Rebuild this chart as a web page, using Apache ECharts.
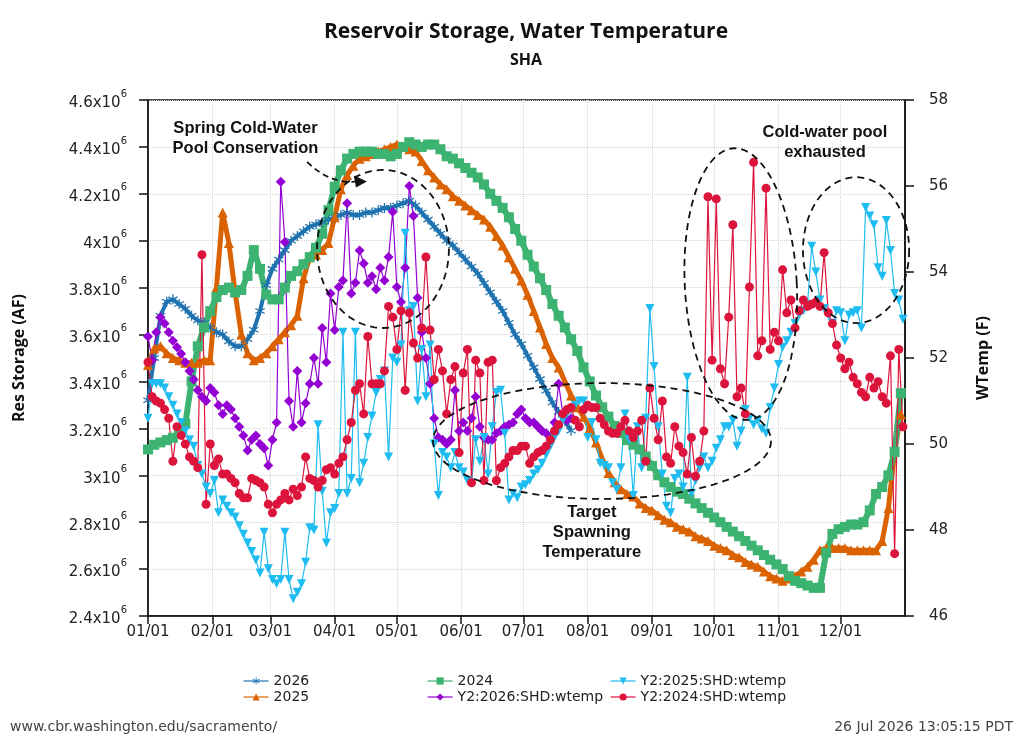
<!DOCTYPE html>
<html>
<head>
<meta charset="utf-8">
<title>SHA Reservoir Storage, Water Temperature</title>
<script src="https://cdn.jsdelivr.net/npm/echarts@6.0.0/dist/echarts.min.js"></script>
<style>
  html, body { margin: 0; padding: 0; background: #fff; }
  #chart { width: 1024px; height: 745px; }
</style>
</head>
<body>
<div id="chart"></div>
<script>
// x axis is day of year (0 = 01/01)
const monthStartDays = [0, 31, 59, 90, 120, 151, 181, 212, 243, 273, 304, 334];
const monthLabels = ['01/01', '02/01', '03/01', '04/01', '05/01', '06/01',
  '07/01', '08/01', '09/01', '10/01', '11/01', '12/01'];

// storage, million acre-feet, one value every 3 days from 01/01
const STORAGE_STEP = 3;
const storage2026 = [3.32, 3.50, 3.68, 3.74, 3.75, 3.73, 3.71, 3.68, 3.66, 3.65,
  3.63, 3.61, 3.60, 3.57, 3.55, 3.55, 3.58, 3.62, 3.70, 3.81,
  3.88, 3.92, 3.96, 4.00, 4.02, 4.04, 4.06, 4.07, 4.08, 4.09,
  4.10, 4.11, 4.12, 4.11, 4.11, 4.12, 4.12, 4.13, 4.14, 4.14,
  4.15, 4.16, 4.17, 4.15, 4.12, 4.09, 4.06, 4.03, 4.00, 3.98,
  3.95, 3.92, 3.89, 3.86, 3.82, 3.78, 3.74, 3.70, 3.65, 3.60,
  3.56, 3.51, 3.46, 3.41, 3.36, 3.31, 3.27, 3.23, 3.19];
const storage2025 = [3.47, 3.54, 3.55, 3.52, 3.50, 3.49, 3.48, 3.48, 3.48, 3.49,
  3.49, 3.80, 4.12, 3.99, 3.78, 3.60, 3.52, 3.49, 3.50, 3.52,
  3.55, 3.58, 3.61, 3.64, 3.68, 3.84, 3.93, 3.94, 3.96, 3.99,
  4.10, 4.22, 4.28, 4.32, 4.35, 4.36, 4.37, 4.38, 4.39, 4.40,
  4.41, 4.40, 4.39, 4.38, 4.34, 4.30, 4.27, 4.24, 4.22, 4.19,
  4.17, 4.15, 4.13, 4.11, 4.09, 4.06, 4.02, 3.98, 3.93, 3.88,
  3.83, 3.77, 3.70, 3.63, 3.56, 3.50, 3.46, 3.40, 3.34, 3.29,
  3.25, 3.20, 3.14, 3.07, 3.01, 2.97, 2.94, 2.92, 2.91, 2.88,
  2.86, 2.85, 2.83, 2.81, 2.80, 2.78, 2.77, 2.76, 2.74, 2.73,
  2.72, 2.70, 2.69, 2.68, 2.66, 2.65, 2.63, 2.62, 2.61, 2.59,
  2.57, 2.56, 2.55, 2.56, 2.57, 2.59, 2.61, 2.64, 2.68, 2.69,
  2.69, 2.69, 2.69, 2.68, 2.68, 2.68, 2.68, 2.68, 2.72, 2.86,
  3.10, 3.26];
const storage2024 = [3.11, 3.13, 3.14, 3.15, 3.16, 3.18, 3.22, 3.40, 3.55, 3.63,
  3.70, 3.76, 3.79, 3.80, 3.78, 3.79, 3.85, 3.96, 3.88, 3.77,
  3.75, 3.75, 3.80, 3.85, 3.87, 3.90, 3.93, 3.97, 4.03, 4.13,
  4.23, 4.30, 4.35, 4.37, 4.38, 4.38, 4.38, 4.37, 4.37, 4.36,
  4.37, 4.40, 4.42, 4.41, 4.40, 4.41, 4.41, 4.39, 4.36, 4.35,
  4.33, 4.31, 4.29, 4.27, 4.24, 4.20, 4.17, 4.14, 4.10, 4.05,
  4.00, 3.94, 3.89, 3.84, 3.79, 3.73, 3.68, 3.63, 3.58, 3.53,
  3.46, 3.40, 3.34, 3.29, 3.25, 3.21, 3.18, 3.15, 3.13, 3.11,
  3.08, 3.04, 3.00, 2.97, 2.95, 2.93, 2.92, 2.90, 2.88, 2.86,
  2.84, 2.82, 2.80, 2.78, 2.76, 2.74, 2.72, 2.70, 2.68, 2.66,
  2.64, 2.62, 2.60, 2.57, 2.55, 2.54, 2.53, 2.52, 2.52, 2.67,
  2.75, 2.77, 2.78, 2.79, 2.79, 2.80, 2.85, 2.92, 2.95, 3.00,
  3.10, 3.35];

// SHD water temperature, deg F, one value every 2 days from 01/01
const WTEMP_STEP = 2;
const wtemp2026 = [52.5, 51.95, 52.6, 52.95, 52.8, 52.6, 52.4, 52.25, 52.1, 51.9,
  51.7, 51.5, 51.25, 51.1, 51.0, 51.3, 51.2, 50.9, 50.7, 50.9,
  50.8, 50.6, 50.4, 50.2, 49.85, 50.1, 50.2, 50.0, 49.9, 49.5,
  50.1, 50.5, 56.1, 54.7, 51.0, 50.4, 51.7, 50.5, 50.95, 51.4,
  52.0, 51.4, 52.7, 51.9, 53.5, 52.65, 53.65, 53.8, 55.6, 53.5,
  53.75, 54.5, 54.2, 53.75, 53.9, 53.6, 54.1, 53.8, 54.35, 55.4,
  53.65, 53.3, 54.1, 56.0, 55.3, 53.4, 52.6, 52.0, 51.4, 50.6,
  50.15, 50.1, 50.0, 50.1, 51.25, 50.3, 50.5, 50.3, 50.6, 51.1,
  50.4, 50.15, 50.1, 50.1, 50.25, 50.3, 50.4, 50.45, 50.5, 50.7,
  50.8, 50.6, 50.5, 50.5, 50.4, 50.3, 50.25, 50.15, 50.5, 51.4,
  50.7, 50.55, 50.6];
const wtemp2025 = [50.6, 51.4, 51.4, 51.4, 51.3, 51.1, 50.9, 50.7, 50.5, 50.3,
  50.1, 49.95, 49.5, 49.3, 49.0, 48.85, 49.15, 48.4, 48.7, 48.55,
  48.4, 48.3, 48.1, 47.9, 47.7, 47.5, 47.3, 47.0, 47.95, 47.1,
  46.85, 46.75, 46.85, 47.95, 46.85, 46.4, 46.55, 46.75, 47.25, 48.05,
  48.0, 50.45, 48.9, 47.7, 48.4, 48.5, 48.85, 52.6, 48.85, 49.2,
  52.6, 49.1, 49.55, 50.15, 50.65, 51.2, 51.5, 51.7, 49.7, 52.0,
  51.9, 52.3, 54.9, 53.1, 53.2, 51.0, 52.2, 51.1, 52.3, 50.0,
  48.8, 49.8, 49.7, 49.45, 49.8, 49.45, 49.35, 49.15, 49.1, 50.1,
  49.6, 50.15, 49.3, 50.4, 51.2, 51.25, 50.25, 48.7, 48.85, 48.75,
  49.0, 49.05, 49.15, 49.3, 49.4, 49.55, 49.75, 49.95, 50.15, 50.3,
  50.55, 50.7, 50.8, 50.9, 51.0, 51.0, 50.15, 50.5, 50.1, 49.55,
  49.5, 49.45, 49.1, 48.95, 49.45, 50.7, 50.1, 48.8, 50.4, 49.45,
  50.6, 53.15, 51.8, 50.4, 49.3, 48.55, 48.4, 49.2, 49.3, 49.0,
  51.55, 48.85, 49.15, 49.45, 49.7, 49.45, 49.6, 49.9, 50.1, 50.4,
  50.4, 50.55, 49.95, 50.3, 50.8, 50.6, 50.45, 50.55, 50.35, 50.25,
  50.85, 51.3, 51.85, 52.25, 52.4, 52.6, 52.8, 53.0, 53.1, 53.25,
  54.6, 54.0, 53.35, 53.15, 53.0, 52.8, 53.1, 53.05, 52.4, 53.0,
  53.05, 53.1, 52.7, 55.5, 55.3, 55.1, 54.1, 53.9, 55.2, 54.5,
  53.5, 53.35, 52.9];
const wtemp2024 = [51.9, 51.1, 51.0, 50.95, 50.8, 50.6, 49.6, 50.4, 50.2, 50.0,
  49.7, 49.6, 49.45, 54.4, 48.6, 50.0, 49.5, 49.65, 49.3, 49.3,
  49.2, 49.1, 48.85, 48.75, 48.75, 49.2, 49.15, 49.1, 49.0, 48.6,
  48.4, 48.6, 48.7, 48.85, 48.7, 48.95, 48.8, 49.0, 49.7, 49.2,
  49.15, 49.0, 49.15, 49.4, 49.45, 49.3, 49.55, 49.7, 50.1, 50.5,
  51.25, 51.4, 50.7, 52.5, 51.4, 51.4, 51.4, 51.7, 53.2, 52.95,
  52.2, 53.1, 51.25, 53.05, 52.35, 52.0, 52.7, 54.35, 52.65, 51.5,
  52.2, 51.7, 50.7, 51.5, 51.8, 49.8, 51.65, 52.2, 49.1, 51.95,
  51.65, 49.15, 51.9, 51.95, 49.15, 49.45, 49.55, 49.7, 49.85, 49.85,
  49.95, 49.95, 49.55, 49.7, 49.8, 49.85, 49.95, 50.1, 50.3, 50.45,
  50.7, 50.8, 50.85, 50.55, 50.4, 50.8, 50.9, 50.85, 50.85, 50.6,
  50.45, 50.3, 50.25, 50.25, 50.4, 50.55, 50.3, 50.15, 50.3, 50.55,
  49.6, 51.3, 50.6, 50.1, 51.0, 49.7, 49.55, 50.4, 49.95, 49.8,
  49.3, 50.15, 49.25, 49.6, 50.3, 55.75, 51.95, 55.7, 51.75, 51.4,
  52.95, 55.1, 51.1, 51.3, 50.7, 53.65, 56.55, 52.05, 52.4, 55.95,
  52.2, 52.6, 52.4, 54.05, 53.05, 53.35, 52.7, 53.1, 53.35, 53.2,
  53.25, 53.3, 53.2, 54.45, 53.05, 52.8, 52.3, 52.0, 51.75, 51.9,
  51.55, 51.4, 51.2, 51.1, 51.55, 51.3, 51.45, 51.1, 50.95, 52.05,
  47.45, 52.2, 50.4];

// annotation anchors in chart coordinates [day, AF]
const springNote = { day: 47, value: 4.438e6 };
const springArrow = { from: [76.7, 4.336e6], to: [104.6, 4.252e6] };
const springEllipse = { day: 113.3, value: 3.965e6, rx: 31.8, ry: 0.337e6, rot: 0 };
const exhaustedNote = { day: 326.4, value: 4.417e6 };
const octEllipse = { day: 285.8, value: 3.815e6, rx: 27, ry: 0.58e6, rot: -3 };
const decEllipse = { day: 341.4, value: 3.96e6, rx: 25.6, ry: 0.311e6, rot: 0 };
const targetNote = { day: 214, value: 2.758e6 };
const targetEllipse = { day: 218.9, value: 3.146e6, rx: 81.5, ry: 0.247e6, rot: 0 };

const AXIS_FONT = '"DejaVu Sans", sans-serif';
const BOLD_FONT = '"Open Sans", "DejaVu Sans", sans-serif';
const NOTE_FONT = '"Liberation Sans", Arial, sans-serif';

// six armed asterisk, all arms wound the same way
const asterisk = 'path://M-1.2 10L1.2 10L1.2 -10L-1.2 -10Z' +
  'M-9.26 -3.96L-8.06 -6.04L9.26 3.96L8.06 6.04Z' +
  'M8.06 -6.04L9.26 -3.96L-8.06 6.04L-9.26 3.96Z';

function toPoints(values, step, scale) {
  return values.map((v, i) => [i * step, v * scale]);
}

function makeSeries(name, values, step, scale, axis, color, symbol, size, lineWidth, rotate) {
  return {
    name: name,
    type: 'line',
    yAxisIndex: axis,
    data: toPoints(values, step, scale),
    symbol: symbol,
    symbolSize: size,
    symbolRotate: rotate || 0,
    showSymbol: true,
    color: color,
    lineStyle: { color: color, width: lineWidth },
    itemStyle: { color: color },
    emphasis: { disabled: true },
    animation: false
  };
}

let chart = echarts.init(document.getElementById('chart'));

let option = {
  backgroundColor: '#fff',
  title: {
    text: 'Reservoir Storage, Water Temperature',
    subtext: 'SHA',
    left: 521,
    top: 17,
    textAlign: 'center',
    itemGap: 9,
    textStyle: { fontFamily: BOLD_FONT, fontWeight: 'bold', fontSize: 21, color: '#111' },
    subtextStyle: { fontFamily: BOLD_FONT, fontWeight: 'bold', fontSize: 16, color: '#111' }
  },
  legend: [
    { data: ['2026', '2025'], left: 238 },
    { data: ['2024', 'Y2:2026:SHD:wtemp'], left: 422 },
    { data: ['Y2:2025:SHD:wtemp', 'Y2:2024:SHD:wtemp'], left: 605 }
  ].map(l => Object.assign({
    orient: 'vertical',
    top: 669,
    itemGap: 2,
    itemWidth: 25,
    itemHeight: 9,
    selectedMode: false,
    lineStyle: { width: 1.2 },
    textStyle: { fontFamily: AXIS_FONT, fontSize: 14, color: '#222' }
  }, l)),
  grid: {
    left: 148, right: 119, top: 100, bottom: 129,
    show: true, borderColor: '#111', borderWidth: 1.5
  },
  xAxis: {
    type: 'value',
    min: 0,
    max: 365,
    axisLine: { lineStyle: { color: '#111', width: 1.5 } },
    axisTick: { customValues: monthStartDays, length: 8, lineStyle: { color: '#111', width: 1.5 } },
    axisLabel: {
      customValues: monthStartDays,
      formatter: v => monthLabels[monthStartDays.indexOf(v)],
      fontFamily: AXIS_FONT, fontSize: 15, color: '#222', margin: 9
    },
    splitLine: { show: true, lineStyle: { color: '#d4d4d4', type: 'dotted', width: 1 } }
  },
  yAxis: [
    {
      type: 'value',
      min: 2.4e6,
      max: 4.6e6,
      interval: 0.2e6,
      position: 'left',
      name: 'Res Storage (AF)',
      nameLocation: 'middle',
      nameRotate: 90,
      nameGap: 121,
      nameTextStyle: { fontFamily: BOLD_FONT, fontWeight: 'bold', fontSize: 16, color: '#111' },
      axisLine: { show: true, lineStyle: { color: '#111', width: 1.5 } },
      axisTick: { show: true, length: 9, lineStyle: { color: '#111', width: 1.5 } },
      axisLabel: {
        margin: 21,
        formatter: v => '{m|' + Number((v / 1e6).toFixed(1)) + 'x10}{e|6}',
        rich: {
          m: { fontFamily: AXIS_FONT, fontSize: 15, color: '#222', lineHeight: 22, verticalAlign: 'bottom' },
          e: { fontFamily: AXIS_FONT, fontSize: 10, color: '#222', lineHeight: 12, verticalAlign: 'top' }
        }
      },
      splitLine: { show: true, lineStyle: { color: '#d4d4d4', type: 'dotted', width: 1 } }
    },
    {
      type: 'value',
      min: 46,
      max: 58,
      interval: 2,
      position: 'right',
      name: 'WTemp (F)',
      nameLocation: 'middle',
      nameRotate: 90,
      nameGap: 70,
      nameTextStyle: { fontFamily: BOLD_FONT, fontWeight: 'bold', fontSize: 16, color: '#111' },
      axisLine: { show: true, lineStyle: { color: '#111', width: 1.5 } },
      axisTick: { show: true, length: 9, lineStyle: { color: '#111', width: 1.5 } },
      axisLabel: { fontFamily: AXIS_FONT, fontSize: 15, color: '#222', margin: 24 },
      splitLine: { show: false }
    }
  ],
  series: [
    makeSeries('2026', storage2026, STORAGE_STEP, 1e6, 0, '#1f73b0', asterisk, 10, 4),
    makeSeries('2025', storage2025, STORAGE_STEP, 1e6, 0, '#db6200', 'triangle', 10, 5),
    makeSeries('2024', storage2024, STORAGE_STEP, 1e6, 0, '#3cb371', 'rect', 10, 6),
    makeSeries('Y2:2026:SHD:wtemp', wtemp2026, WTEMP_STEP, 1, 1, '#9400d3', 'diamond', 10, 1.2),
    makeSeries('Y2:2025:SHD:wtemp', wtemp2025, WTEMP_STEP, 1, 1, '#1ebcf0', 'triangle', 9, 1.2, 180),
    makeSeries('Y2:2024:SHD:wtemp', wtemp2024, WTEMP_STEP, 1, 1, '#dc143c', 'circle', 9, 1.2)
  ]
};

chart.setOption(option);

// annotations, placed from chart coordinates
function px(day, value) {
  return chart.convertToPixel({ xAxisIndex: 0, yAxisIndex: 0 }, [day, value]);
}

function dashedEllipse(e) {
  let c = px(e.day, e.value);
  let rx = px(e.day + e.rx, e.value)[0] - c[0];
  let ry = c[1] - px(e.day, e.value + e.ry)[1];
  let a = e.rot * Math.PI / 180;
  let pts = [];
  for (let k = 0; k < 96; k++) {
    let t = k / 96 * Math.PI * 2;
    let x = rx * Math.cos(t), y = ry * Math.sin(t);
    pts.push([c[0] + x * Math.cos(a) - y * Math.sin(a), c[1] + x * Math.sin(a) + y * Math.cos(a)]);
  }
  return {
    type: 'polygon', silent: true, z: 100,
    shape: { points: pts },
    style: { fill: 'none', stroke: '#111', lineWidth: 1.8, lineDash: [7, 5] }
  };
}

function note(n, text) {
  let p = px(n.day, n.value);
  return {
    type: 'text', silent: true, z: 101, x: p[0], y: p[1],
    style: {
      text: text, align: 'center', verticalAlign: 'middle', lineHeight: 20,
      font: 'bold 16.5px ' + NOTE_FONT, fill: '#111'
    }
  };
}

let a0 = px(springArrow.from[0], springArrow.from[1]);
let a1 = px(springArrow.to[0], springArrow.to[1]);

chart.setOption({
  graphic: [
    dashedEllipse(springEllipse),
    dashedEllipse(octEllipse),
    dashedEllipse(decEllipse),
    dashedEllipse(targetEllipse),
    note(springNote, 'Spring Cold-Water\nPool Conservation'),
    note(exhaustedNote, 'Cold-water pool\nexhausted'),
    note(targetNote, 'Target\nSpawning\nTemperature'),
    {
      type: 'bezierCurve', silent: true, z: 100,
      shape: { x1: a0[0], y1: a0[1], cpx1: a0[0] + 22, cpy1: a1[1] + 2, x2: a1[0] - 10, y2: a1[1] },
      style: { fill: 'none', stroke: '#111', lineWidth: 1.8, lineDash: [6, 4] }
    },
    {
      type: 'polygon', silent: true, z: 100,
      shape: { points: [[a1[0] + 2, a1[1]], [a1[0] - 11, a1[1] - 6], [a1[0] - 9, a1[1] + 6]] },
      style: { fill: '#111' }
    },
    {
      type: 'text', left: 10, top: 720, silent: true,
      style: { text: 'www.cbr.washington.edu/sacramento/', font: '14px ' + AXIS_FONT, fill: '#444' }
    },
    {
      type: 'text', right: 11, top: 720, silent: true,
      style: { text: '26 Jul 2026 13:05:15 PDT', font: '14px ' + AXIS_FONT, fill: '#444' }
    }
  ]
});
</script>
</body>
</html>
